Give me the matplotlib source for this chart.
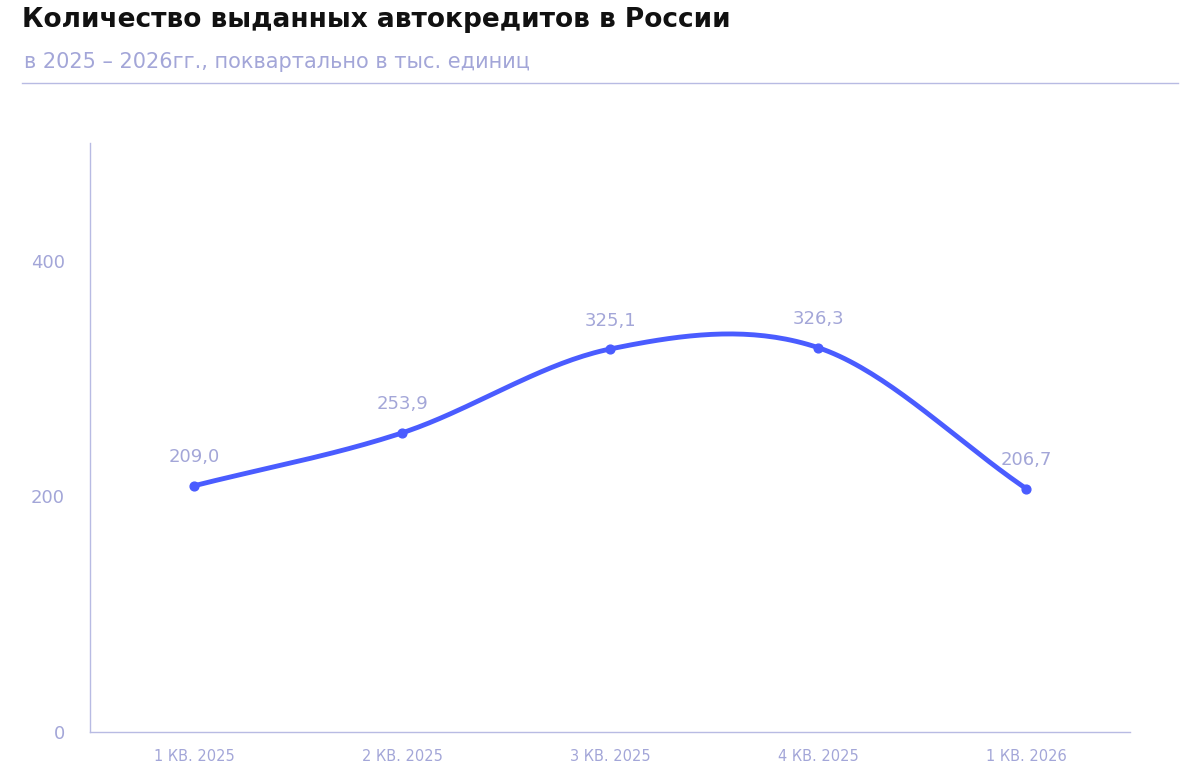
import numpy as np
import matplotlib
matplotlib.use("Agg")
import matplotlib.pyplot as plt

categories = ["1 КВ. 2025", "2 КВ. 2025", "3 КВ. 2025", "4 КВ. 2025", "1 КВ. 2026"]
values = [209.0, 253.9, 325.1, 326.3, 206.7]
yticks = [0, 200, 400]

LINE = "#4a5cff"
LAB = "#a3a6d8"
AX = "#b8bbe3"

fig = plt.figure(figsize=(12, 7.8), dpi=100)
ax = fig.add_axes([0.075, 0.0615, 0.8667, 0.7552])

x = np.arange(len(values), dtype=float)
y = np.array(values)
# Catmull-Rom smoothing through data points
px = np.concatenate([[2*x[0]-x[1]], x, [2*x[-1]-x[-2]]])
py = np.concatenate([[2*y[0]-y[1]], y, [2*y[-1]-y[-2]]])
sx, sy = [], []
t = np.linspace(0, 1, 40)
for i in range(1, len(px)-2):
    for P, out in ((px, sx), (py, sy)):
        p0, p1, p2, p3 = P[i-1], P[i], P[i+1], P[i+2]
        out.extend(0.5*((2*p1) + (-p0+p2)*t + (2*p0-5*p1+4*p2-p3)*t**2 + (-p0+3*p1-3*p2+p3)*t**3))
ax.plot(sx, sy, color=LINE, lw=3.5, solid_capstyle="round")
ax.scatter(x, y, color=LINE, s=40, zorder=3)
for xi, yi in zip(x, y):
    ax.annotate(f"{yi:.1f}".replace(".", ","), (xi, yi), xytext=(0, 14), textcoords="offset points",
                ha="center", va="bottom", color=LAB, fontsize=13)

ax.set_xlim(-0.5, 4.5)
ax.set_ylim(0, 500)
ax.set_xticks(x)
ax.set_xticklabels(categories, color=LAB, fontsize=10.5)
for lbl in ax.get_xticklabels():
    lbl.set_fontproperties(matplotlib.font_manager.FontProperties(size=10.5))
    lbl.set_color(LAB)
ax.set_yticks(yticks)
ax.set_yticklabels([str(v) for v in yticks], color=LAB, fontsize=13)
ax.tick_params(length=0, pad=12)
ax.tick_params(axis="y", pad=18)
for s in ["top", "right"]:
    ax.spines[s].set_visible(False)
for s in ["left", "bottom"]:
    ax.spines[s].set_color(AX)
    ax.spines[s].set_linewidth(1)

fig.text(0.018, 0.974, "Количество выданных автокредитов в России", fontsize=19, fontweight="bold",
         color="#111111", va="center")
fig.text(0.02, 0.92, "в 2025 – 2026гг., поквартально в тыс. единиц", fontsize=15, color=LAB, va="center")
fig.add_artist(plt.Line2D([0.018, 0.982], [0.894, 0.894], color=AX, lw=1))

fig.savefig("out.png", dpi=100)
